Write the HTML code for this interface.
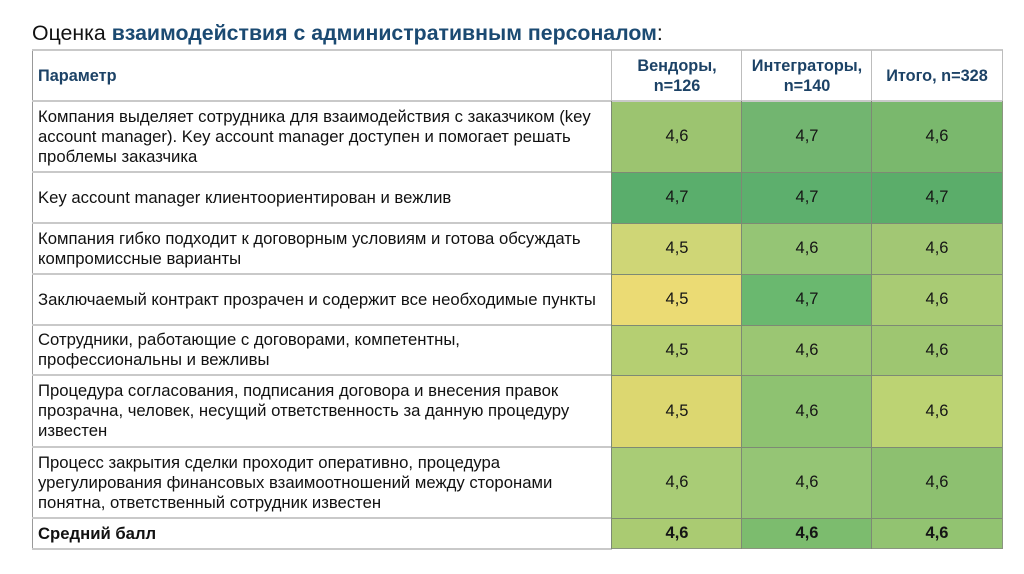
<!DOCTYPE html>
<html>
<head>
<meta charset="utf-8">
<style>
  html,body{margin:0;padding:0;background:#fff;}
  body{width:1024px;height:574px;position:relative;overflow:hidden;font-family:"Liberation Sans","Noto Sans CJK SC",sans-serif;}
  .title{position:absolute;left:32px;top:20px;font-size:21.3px;color:#111;white-space:nowrap;line-height:26px;}
  .title b{color:#1b4a72;}
  .c{position:absolute;box-sizing:border-box;display:flex;align-items:center;}
  .p{left:32px;width:580px;padding-left:5px;font-size:16.7px;line-height:20px;color:#111;border-left:1px solid #999;}
  .v{justify-content:center;font-size:16.5px;color:#151515;width:130px;}
  .hd{justify-content:center;text-align:center;font-weight:bold;font-size:16.3px;line-height:20px;color:#1c4266;width:130px;}
  .hl{position:absolute;height:2px;background:#c9c9c9;}
  .gl{position:absolute;background:#7d8a74;}
</style>
</head>
<body>
<div class="title">Оценка <b>взаимодействия с административным персоналом</b>:</div>

<!-- header -->
<div class="c p" style="top:50px;height:51px;font-weight:bold;font-size:16.3px;color:#1c4266;">Параметр</div>
<div class="c hd" style="left:612px;top:50px;height:51px;">Вендоры,<br>n=126</div>
<div class="c hd" style="left:742px;top:50px;height:51px;">Интеграторы,<br>n=140</div>
<div class="c hd" style="left:872px;top:50px;height:51px;">Итого, n=328</div>

<!-- rows text -->
<div class="c p" style="top:101px;height:71px;">Компания выделяет сотрудника для взаимодействия с заказчиком (key<br>account manager). Key account manager доступен и помогает решать<br>проблемы заказчика</div>
<div class="c p" style="top:172px;height:51px;">Key account manager клиентоориентирован и вежлив</div>
<div class="c p" style="top:223px;height:51px;">Компания гибко подходит к договорным условиям и готова обсуждать<br>компромиссные варианты</div>
<div class="c p" style="top:274px;height:51px;">Заключаемый контракт прозрачен и содержит все необходимые пункты</div>
<div class="c p" style="top:325px;height:50px;">Сотрудники, работающие с договорами, компетентны,<br>профессиональны и вежливы</div>
<div class="c p" style="top:375px;height:72px;">Процедура согласования, подписания договора и внесения правок<br>прозрачна, человек, несущий ответственность за данную процедуру<br>известен</div>
<div class="c p" style="top:447px;height:71px;">Процесс закрытия сделки проходит оперативно, процедура<br>урегулирования финансовых взаимоотношений между сторонами<br>понятна, ответственный сотрудник известен</div>
<div class="c p" style="top:518px;height:31px;font-weight:bold;">Средний балл</div>

<!-- value cells -->
<div class="c v" style="left:612px;top:101px;height:71px;background:#9cc470;">4,6</div>
<div class="c v" style="left:742px;top:101px;height:71px;background:#72b570;">4,7</div>
<div class="c v" style="left:872px;top:101px;height:71px;background:#7ab86d;">4,6</div>

<div class="c v" style="left:612px;top:172px;height:51px;background:#5aae6c;">4,7</div>
<div class="c v" style="left:742px;top:172px;height:51px;background:#5daf6d;">4,7</div>
<div class="c v" style="left:872px;top:172px;height:51px;background:#5bad6a;">4,7</div>

<div class="c v" style="left:612px;top:223px;height:51px;background:#cfd676;">4,5</div>
<div class="c v" style="left:742px;top:223px;height:51px;background:#95c575;">4,6</div>
<div class="c v" style="left:872px;top:223px;height:51px;background:#a2c774;">4,6</div>

<div class="c v" style="left:612px;top:274px;height:51px;background:#ebdb74;">4,5</div>
<div class="c v" style="left:742px;top:274px;height:51px;background:#6ab86f;">4,7</div>
<div class="c v" style="left:872px;top:274px;height:51px;background:#a9cb74;">4,6</div>

<div class="c v" style="left:612px;top:325px;height:50px;background:#b5cf72;">4,5</div>
<div class="c v" style="left:742px;top:325px;height:50px;background:#9bc673;">4,6</div>
<div class="c v" style="left:872px;top:325px;height:50px;background:#9ec671;">4,6</div>

<div class="c v" style="left:612px;top:375px;height:72px;background:#dcd770;">4,5</div>
<div class="c v" style="left:742px;top:375px;height:72px;background:#8ec271;">4,6</div>
<div class="c v" style="left:872px;top:375px;height:72px;background:#bcd373;">4,6</div>

<div class="c v" style="left:612px;top:447px;height:71px;background:#a9cc76;">4,6</div>
<div class="c v" style="left:742px;top:447px;height:71px;background:#95c575;">4,6</div>
<div class="c v" style="left:872px;top:447px;height:71px;background:#8dc070;">4,6</div>

<div class="c v" style="left:612px;top:518px;height:31px;background:#aacb72;font-weight:bold;">4,6</div>
<div class="c v" style="left:742px;top:518px;height:31px;background:#7cbc6e;font-weight:bold;">4,6</div>
<div class="c v" style="left:872px;top:518px;height:31px;background:#92c371;font-weight:bold;">4,6</div>

<!-- horizontal lines (light gray) -->
<div class="hl" style="left:32px;width:971px;top:49px;"></div>
<div class="hl" style="left:32px;width:971px;top:100px;"></div>
<div class="hl" style="left:32px;width:580px;top:171px;"></div>
<div class="hl" style="left:32px;width:580px;top:222px;"></div>
<div class="hl" style="left:32px;width:580px;top:273px;"></div>
<div class="hl" style="left:32px;width:580px;top:324px;"></div>
<div class="hl" style="left:32px;width:580px;top:374px;"></div>
<div class="hl" style="left:32px;width:580px;top:446px;"></div>
<div class="hl" style="left:32px;width:580px;top:517px;"></div>
<div class="hl" style="left:32px;width:580px;top:548px;"></div>

<!-- header vertical lines -->
<div style="position:absolute;left:611px;top:50px;width:1px;height:51px;background:#bdbdbd;"></div>
<div style="position:absolute;left:741px;top:50px;width:1px;height:51px;background:#bdbdbd;"></div>
<div style="position:absolute;left:871px;top:50px;width:1px;height:51px;background:#bdbdbd;"></div>
<div style="position:absolute;left:1002px;top:50px;width:1px;height:51px;background:#bdbdbd;"></div>

<!-- grid lines in colored area -->
<div class="gl" style="left:612px;top:172px;width:390px;height:1px;"></div>
<div class="gl" style="left:612px;top:223px;width:390px;height:1px;"></div>
<div class="gl" style="left:612px;top:274px;width:390px;height:1px;"></div>
<div class="gl" style="left:612px;top:325px;width:390px;height:1px;"></div>
<div class="gl" style="left:612px;top:375px;width:390px;height:1px;"></div>
<div class="gl" style="left:612px;top:447px;width:390px;height:1px;"></div>
<div class="gl" style="left:612px;top:518px;width:390px;height:1px;"></div>
<div class="gl" style="left:612px;top:548px;width:391px;height:1px;background:#8a9580;"></div>
<div class="gl" style="left:611px;top:101px;width:1px;height:448px;"></div>
<div class="gl" style="left:741px;top:101px;width:1px;height:448px;"></div>
<div class="gl" style="left:871px;top:101px;width:1px;height:448px;"></div>
<div class="gl" style="left:1002px;top:101px;width:1px;height:448px;background:#8a9580;"></div>
</body>
</html>
